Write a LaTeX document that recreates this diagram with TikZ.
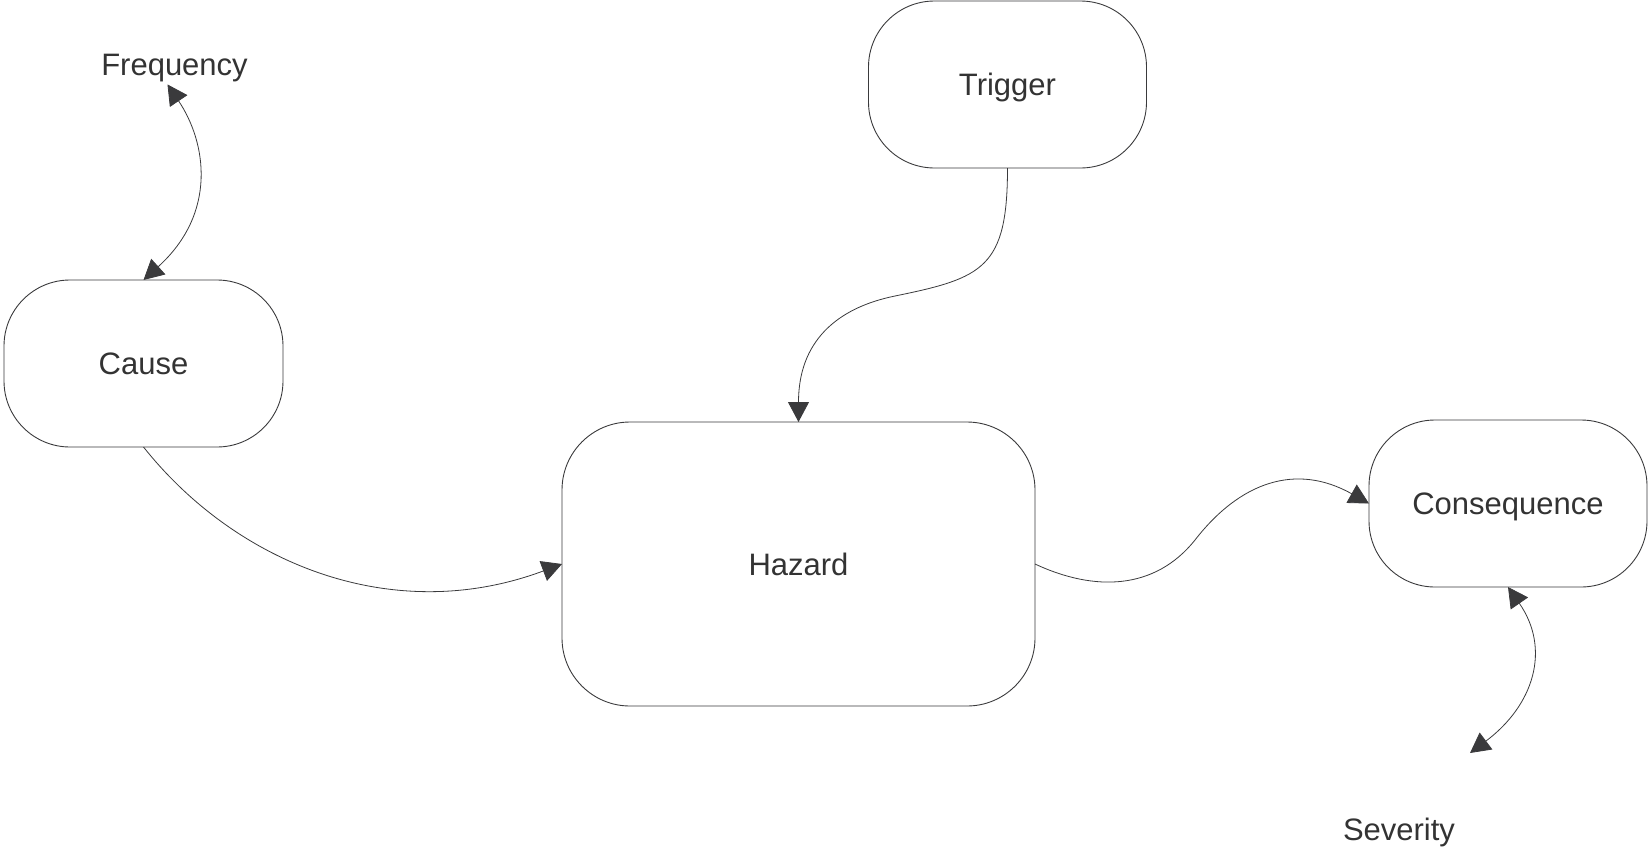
\documentclass[tikz,border=0pt]{standalone}
\usepackage{fontspec}
\setmainfont{Liberation Sans}
\usetikzlibrary{arrows.meta}
\definecolor{ink}{HTML}{333333}
\definecolor{edge}{HTML}{3A3A3C}
\begin{document}
\begin{tikzpicture}[x=1pt,y=-1pt,
  >={Triangle[length=20pt,width=21pt]},
  box/.style={draw=edge, line width=0.9pt, rounded corners=66pt,
    inner sep=0pt, outer sep=0pt, text=ink,
    font=\fontsize{31}{37}\selectfont, text height=22pt, text depth=0pt},
  label/.style={inner sep=0pt, outer sep=0pt, text=ink,
    font=\fontsize{31}{37}\selectfont, anchor=base},
  conn/.style={draw=edge, line width=0.8pt}]
\useasboundingbox (0,0) rectangle (1650,849);

% boxes
\node[box, minimum width=279pt, minimum height=167pt] (cause) at (143.5,363.5) {Cause};
\node[box, minimum width=278pt, minimum height=167pt] (trigger) at (1007.5,84.5) {Trigger};
\node[box, minimum width=473pt, minimum height=284pt, rounded corners=68pt] (hazard) at (798.5,564) {Hazard};
\node[box, minimum width=278pt, minimum height=167pt] (conseq) at (1508,503.5) {Consequence};

% free labels
\node[label] (freq) at (174.5,75) {Frequency};
\node[label] (sev) at (1399,840) {Severity};
\coordinate (sevend) at (1470,753);

% connectors
\draw[conn,->] (cause.south) .. controls +(93,117) and +(-169,63) .. (hazard.west);
\draw[conn,->] (trigger.south) .. controls +(0,100) and +(88,-18) .. (895,296)
  .. controls +(-59,12) and +(0,-80) .. (hazard.north);
\draw[conn,->] (hazard.east) .. controls +(60,28) and +(-40,50) .. (1195,540)
  .. controls +(45,-58) and +(-73,-41) .. (conseq.west);
\draw[conn,<->] (cause.north) .. controls +(74,-67) and +(39,58) .. ([shift={(-7,3)}]freq.south);
\draw[conn,<->] (conseq.south) .. controls +(43,62) and +(64,-48) .. (sevend);
\end{tikzpicture}
\end{document}
